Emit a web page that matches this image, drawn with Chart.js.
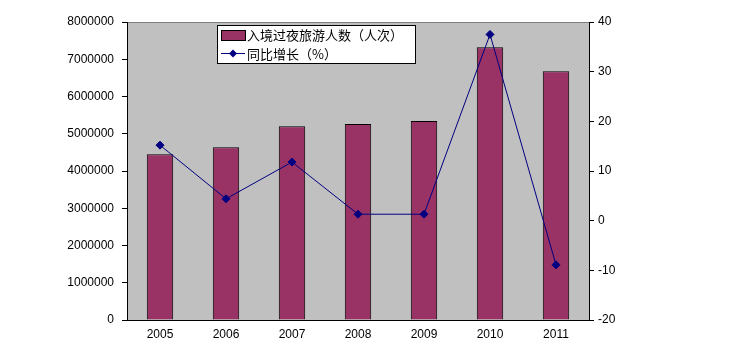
<!DOCTYPE html>
<html><head><meta charset="utf-8">
<script src="https://cdn.jsdelivr.net/npm/chart.js@4/dist/chart.umd.min.js"></script>
<style>html,body{margin:0;padding:0;background:#fff;}#wrap{width:743px;height:356px;}</style>
</head><body><div id="wrap"><canvas id="c" width="743" height="356"></canvas></div>
<script>
const categories = ['2005','2006','2007','2008','2009','2010','2011'];
const visitors = [4450000, 4640000, 5200000, 5260000, 5340000, 7320000, 6680000];
const growth = [15.2, 4.4, 11.8, 1.3, 1.3, 37.5, -8.9];
const seriesNames = ['入境过夜旅游人数（人次）', '同比增长（%）'];

const bgPlugin = {
  id: 'bg',
  beforeDraw(chart) {
    const {ctx, chartArea: a} = chart;
    ctx.save();
    ctx.fillStyle = '#c0c0c0';
    ctx.fillRect(a.left, a.top, a.right - a.left, a.bottom - a.top);
    ctx.strokeStyle = '#808080';
    ctx.lineWidth = 1;
    ctx.beginPath();
    ctx.moveTo(a.left, a.top + 0.5); ctx.lineTo(a.right, a.top + 0.5);
    ctx.stroke();
    ctx.restore();
  },
  afterDraw(chart) {
    const {ctx} = chart;
    const x = 217, y = 25, w = 198, h = 38;
    ctx.save();
    ctx.fillStyle = '#fff';
    ctx.fillRect(x, y, w, h);
    ctx.strokeStyle = '#000';
    ctx.lineWidth = 1;
    ctx.strokeRect(x + 0.5, y + 0.5, w, h);
    // bar swatch
    ctx.fillStyle = '#993366';
    ctx.fillRect(221, 30, 24, 10);
    ctx.strokeRect(221.5, 30.5, 24, 10);
    // line swatch
    ctx.strokeStyle = '#000080';
    ctx.beginPath(); ctx.moveTo(221, 53.5); ctx.lineTo(245, 53.5); ctx.stroke();
    ctx.fillStyle = '#000080';
    ctx.beginPath();
    ctx.moveTo(233, 49.5); ctx.lineTo(237, 53.5); ctx.lineTo(233, 57.5); ctx.lineTo(229, 53.5); ctx.closePath(); ctx.fill();
    ctx.fillStyle = '#000';
    ctx.font = '13px "Noto Sans CJK SC", sans-serif';
    ctx.textBaseline = 'middle';
    ctx.fillText(seriesNames[0], 247, 35);
    ctx.fillText(seriesNames[1], 247, 54);
    ctx.restore();
  }
};

new Chart(document.getElementById('c'), {
  data: {
    labels: categories,
    datasets: [
      { type: 'line', label: seriesNames[1], data: growth, yAxisID: 'y1',
        borderColor: '#000080', borderWidth: 1, backgroundColor: '#000080',
        pointStyle: 'rectRot', pointRadius: 4, pointHoverRadius: 4, tension: 0, order: 0 },
      { type: 'bar', label: seriesNames[0], data: visitors, yAxisID: 'y',
        backgroundColor: '#993366', borderColor: '#000', borderWidth: 1,
        categoryPercentage: 1, barPercentage: 0.4, order: 1 }
    ]
  },
  options: {
    responsive: false, animation: false,
    layout: { padding: { top: 22, bottom: 0, left: 0, right: 0 } },
    plugins: { legend: { display: false }, tooltip: { enabled: false } },
    scales: {
      x: {
        grid: { display: false, drawTicks: false },
        border: { color: '#000', width: 1 },
        ticks: { color: '#000', font: { family: 'Liberation Sans, Arial', size: 12 }, padding: 7, maxRotation: 0 },
        afterFit(s) { s.height = 36; }
      },
      y: {
        position: 'left', min: 0, max: 8000000,
        grid: { drawOnChartArea: false, tickLength: 5, color: '#000' },
        border: { color: '#000', width: 1 },
        ticks: { stepSize: 1000000, color: '#000', font: { family: 'Liberation Sans, Arial', size: 12 }, padding: 8, callback: v => String(v) },
        afterFit(s) { s.width = 127; }
      },
      y1: {
        position: 'right', min: -20, max: 40,
        grid: { drawOnChartArea: false, tickLength: 5, color: '#000' },
        border: { color: '#000', width: 1 },
        ticks: { stepSize: 10, color: '#000', font: { family: 'Liberation Sans, Arial', size: 12 }, padding: 4 },
        afterFit(s) { s.width = 154; }
      }
    }
  },
  plugins: [bgPlugin]
});
</script>
</body></html>
